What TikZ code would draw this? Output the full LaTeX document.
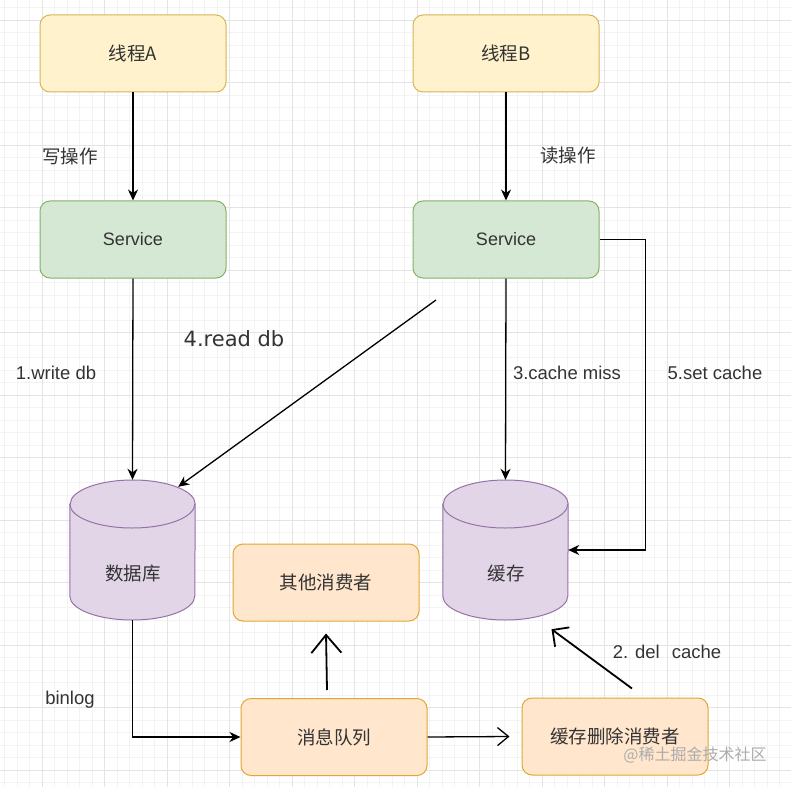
\documentclass[tikz,border=0pt]{standalone}
\usepackage{fontspec}
\setmainfont{Liberation Sans}
\newfontfamily\cjk{Noto Sans CJK SC}
\newfontfamily\dvs{DejaVu Sans}
\usetikzlibrary{arrows.meta,calc}
\definecolor{txt}{HTML}{333333}
\definecolor{yfill}{HTML}{FFF2CC}\definecolor{ydraw}{HTML}{D6B656}
\definecolor{gfill}{HTML}{D5E8D4}\definecolor{gdraw}{HTML}{82B366}
\definecolor{pfill}{HTML}{E1D5E7}\definecolor{pdraw}{HTML}{9673A6}
\definecolor{ofill}{HTML}{FFE6CC}\definecolor{odraw}{HTML}{E0A82E}
\definecolor{gmaj}{HTML}{E4E4E4}\definecolor{gmin}{HTML}{F3F3F3}
\tikzset{
  box/.style={rounded corners=10pt, line width=1pt, minimum width=186pt, minimum height=77pt, inner sep=0pt, text=txt, font=\cjk\fontsize{18.5}{22}\selectfont},
  yel/.style={box, fill=yfill, draw=ydraw},
  grn/.style={box, fill=gfill, draw=gdraw, font=\fontsize{18}{22}\selectfont},
  org/.style={box, fill=ofill, draw=odraw},
  cyl/.style={minimum width=125pt, minimum height=140pt, inner sep=0pt},
  cyltext/.style={text=txt, font=\cjk\fontsize{18.5}{22}\selectfont},
  lbl/.style={text=txt, font=\fontsize{18.5}{22}\selectfont},
  lblcjk/.style={text=txt, font=\cjk\fontsize{18.5}{22}\selectfont},
  conn/.style={line width=1.3pt, -{Stealth[length=11pt,width=10pt,inset=3.5pt]}},
  hand/.style={line width=1.8pt},
}
\begin{document}
\begin{tikzpicture}[x=1pt,y=1pt]
\useasboundingbox (0,0) rectangle (791,-786);
\fill[white] (0,0) rectangle (791,-786);
% grid
\begin{scope}
\clip (0,0) rectangle (791,-786);
\begin{scope}[shift={(42,-20)}]
\draw[gmin, line width=0.5pt, step=12.5] (-50,-780) grid (760,30);
\draw[gmaj, line width=0.7pt, step=62.5] (-62.5,-812.5) grid (812.5,62.5);
\end{scope}
\end{scope}

% boxes
\node[yel] (ta) at (133,-53.5) {线程A};
\node[yel] (tb) at (506,-53.5) {线程B};
\node[grn] (sa) at (133,-239.5) {Service};
\node[grn] (sb) at (506,-239.5) {Service};
\node[org] (oc) at (326,-582.5) {其他消费者};
\node[org] (mq) at (334,-737) {消息队列};
\node[org] (cd) at (615,-736.5) {缓存删除消费者};

% cylinders
\node[cyl] (db) at (132.5,-550) {};
\node[cyl] (ca) at (505.5,-550) {};
\foreach \c in {db,ca}{
  \path[fill=pfill, draw=pdraw, line width=1pt]
    ($(\c.west)+(0,46)$) -- ($(\c.west)+(0,-46)$)
    arc[start angle=180,end angle=360,x radius=62.5,y radius=24]
    -- ($(\c.east)+(0,46)$)
    arc[start angle=0,end angle=180,x radius=62.5,y radius=24] -- cycle;
  \draw[pdraw, line width=1pt] ($(\c.west)+(0,46)$)
    arc[start angle=180,end angle=360,x radius=62.5,y radius=24];
}
\node[cyltext] (dbt) at (133,-573) {数据库};
\node[cyltext] (cat) at (506,-573) {缓存};

% connectors
\draw[conn] (ta.south) -- (sa.north);
\draw[conn] (tb.south) -- (sb.north);
\draw[conn] (sa.south) -- (db.north);
\draw[conn] (sb.south) -- (ca.north);
\coordinate (rd) at (436,-300);
\draw[conn] (rd) -- ($(db.north east)+(-17,-7)$);
\draw[conn] (sb.east) -- ++(46,0) |- (ca.east);
\draw[conn] (db.south) |- (mq.west);
\draw[hand, -{Straight Barb[length=18pt,width=30pt]}] ($(mq.north)+(-7,8)$) -- ($(oc.south)+(0,-12)$);
\draw[line width=1.3pt, -{Straight Barb[length=11pt,width=18pt]}] (mq.east) -- ($(cd.west)+(-12,0)$);
\draw[hand, -{Straight Barb[length=12pt,width=24pt]}] ($(cd.north)+(17,9)$) -- ($(ca.south)+(46,-9)$);

% labels
\node[lblcjk] (l1) at (70,-156) {写操作};
\node[lblcjk] (l2) at (568,-156) {读操作};
\node[lbl] (l3) at (56,-373) {1.write db};
\node[text=txt, font=\dvs\fontsize{21}{25}\selectfont] (l4) at (234,-339) {4.read db};
\node[lbl] (l5) at (567,-373) {3.cache miss};
\node[lbl] (l6) at (715,-373) {5.set cache};
\node[lbl] (l7) at (70,-700) {binlog};
\node[lbl] (l8) at (667,-652) {2. del\hspace{12pt}cache};
\node[text=gray!65, font=\cjk\fontsize{16}{20}\selectfont] (wm) at (695,-755) {@稀土掘金技术社区};
\end{tikzpicture}
\end{document}
